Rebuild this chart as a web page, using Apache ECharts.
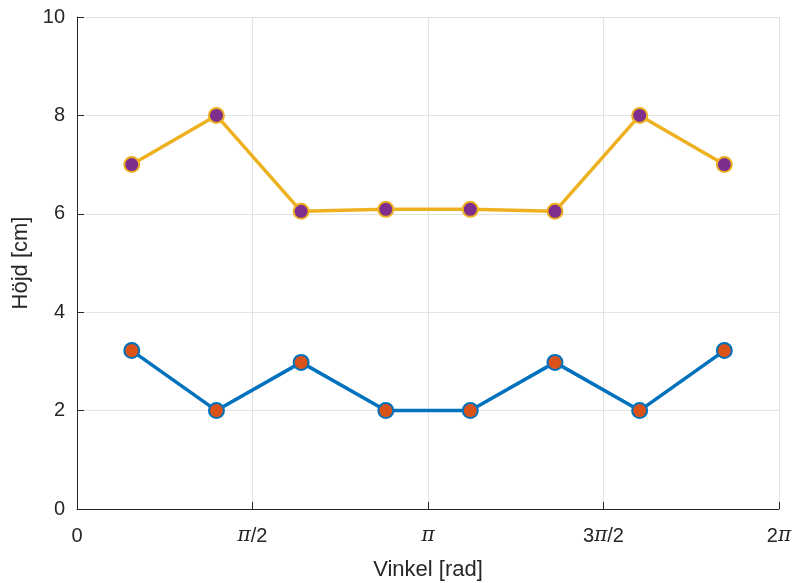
<!DOCTYPE html>
<html>
<head>
<meta charset="utf-8">
<script src="https://cdn.jsdelivr.net/npm/echarts@6/dist/echarts.min.js"></script>
<style>
  html, body { margin: 0; padding: 0; background: #fff; }
  #chart { width: 795px; height: 583px; }
</style>
</head>
<body>
<div id="chart"></div>
<script>
// Angles (rad) where the heights were measured
const angles = [0.49, 1.248, 2.006, 2.764, 3.52, 4.278, 5.036, 5.794];
// Lower profile heights [cm]
const lowerHeights = [3.22, 2.0, 2.98, 2.0, 2.0, 2.98, 2.0, 3.22];
// Upper profile heights [cm]
const upperHeights = [7.0, 8.0, 6.05, 6.09, 6.09, 6.05, 8.0, 7.0];
// Tick labels on the angle axis, in multiples of pi/2
const angleTickLabels = ['0', '{p|π}/2', '{p|π}', '3{p|π}/2', '2{p|π}'];

const HALF_PI = Math.PI / 2;
const font = 'Liberation Sans, Helvetica, Arial, sans-serif';
const textColor = '#262626';

function pairs(xs, ys) { return xs.map((x, i) => [x, ys[i]]); }

const chart = echarts.init(document.getElementById('chart'), null, { renderer: 'canvas' });
chart.setOption({
  animation: false,
  backgroundColor: '#ffffff',
  grid: {
    left: 77, right: 16, top: 17, bottom: 74,
    containLabel: false,
    outerBoundsMode: 'none'
  },
  xAxis: {
    type: 'value',
    min: 0,
    max: 2 * Math.PI,
    interval: HALF_PI,
    name: 'Vinkel [rad]',
    nameLocation: 'middle',
    nameGap: 50,
    nameTextStyle: { fontFamily: font, fontSize: 22, color: textColor },
    axisLine: { show: true, onZero: false, lineStyle: { color: textColor, width: 1 } },
    axisTick: { show: true, inside: true, length: 7, lineStyle: { color: textColor } },
    splitLine: { show: true, lineStyle: { color: '#e3e3e3', width: 1 } },
    axisLabel: {
      margin: 17,
      fontFamily: font,
      fontSize: 20,
      color: textColor,
      formatter: function (v) {
        const k = Math.round(v / HALF_PI);
        return angleTickLabels[k] !== undefined ? angleTickLabels[k] : '';
      },
      rich: {
        p: { fontFamily: 'DejaVu Serif, Liberation Serif, serif', fontStyle: 'italic', fontSize: 20, color: textColor }
      }
    }
  },
  yAxis: {
    type: 'value',
    min: 0,
    max: 10,
    interval: 2,
    name: 'Höjd [cm]',
    nameLocation: 'middle',
    nameGap: 44,
    nameTextStyle: { fontFamily: font, fontSize: 22, color: textColor },
    axisLine: { show: true, onZero: false, lineStyle: { color: textColor, width: 1 } },
    axisTick: { show: true, inside: true, length: 7, lineStyle: { color: textColor } },
    splitLine: { show: true, lineStyle: { color: '#e3e3e3', width: 1 } },
    axisLabel: { margin: 12, fontFamily: font, fontSize: 20, color: textColor }
  },
  series: [
    {
      type: 'line',
      data: pairs(angles, lowerHeights),
      symbol: 'circle',
      symbolSize: 15,
      lineStyle: { color: '#0072BD', width: 3.5 },
      itemStyle: { color: '#D95319', borderColor: '#0072BD', borderWidth: 2 },
      z: 3
    },
    {
      type: 'line',
      data: pairs(angles, upperHeights),
      symbol: 'circle',
      symbolSize: 15,
      lineStyle: { color: '#EDB120', width: 3.5 },
      itemStyle: { color: '#7E2F8E', borderColor: '#EDB120', borderWidth: 2 },
      z: 3
    }
  ]
});
</script>
</body>
</html>
